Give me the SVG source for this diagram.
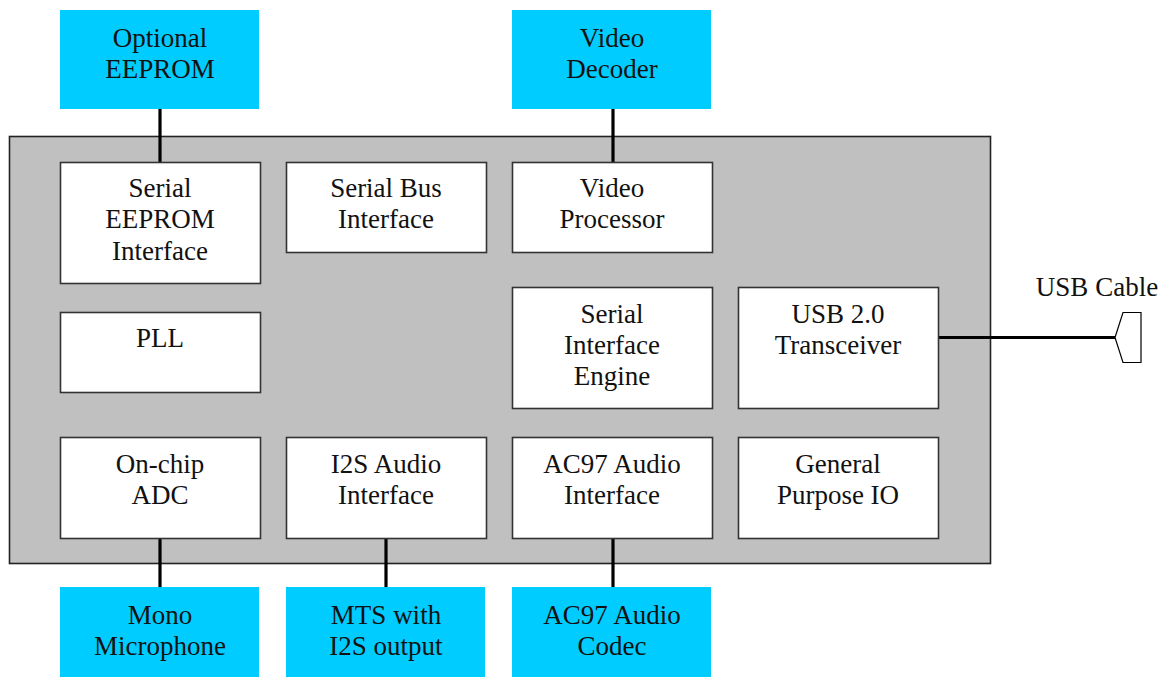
<svg xmlns="http://www.w3.org/2000/svg" width="1167" height="677" viewBox="0 0 1167 677">
  <style>
    .ext { fill: #00ccff; stroke: none; }
    .blk { fill: #ffffff; stroke: #333333; stroke-width: 1.6; }
    .chip { fill: #c0c0c0; stroke: #222222; stroke-width: 1.6; }
    .wire { stroke: #000000; stroke-width: 3.2; fill: none; }
    .plug { stroke: #000000; stroke-width: 1.2; fill: #ffffff; }
    text { font-family: "Liberation Serif", "Times New Roman", serif; font-size: 27px; fill: #111111; text-anchor: middle; }
  </style>

  <!-- device body -->
  <rect id="chip" class="chip" x="9.5" y="136.5" width="981" height="427"/>

  <!-- links between blocks and external parts -->
  <g id="connectors">
    <line class="wire" x1="160" y1="109" x2="160" y2="162"/>
    <line class="wire" x1="613" y1="109" x2="613" y2="162"/>
    <line class="wire" x1="160" y1="538" x2="160" y2="587"/>
    <line class="wire" x1="386" y1="538" x2="386" y2="587"/>
    <line class="wire" x1="613" y1="538" x2="613" y2="587"/>
    <line class="wire" x1="938" y1="337.5" x2="1115" y2="337.5"/>
    <polygon class="plug" points="1115,337.5 1123,312.5 1141,312.5 1141,362.5 1123,362.5"/>
  </g>

  <!-- external parts -->
  <g id="optional-eeprom">
    <rect class="ext" x="60" y="10" width="199" height="99"/>
    <text x="160" y="47">Optional</text>
    <text x="160" y="78">EEPROM</text>
  </g>
  <g id="video-decoder">
    <rect class="ext" x="512" y="10" width="199" height="99"/>
    <text x="612" y="47">Video</text>
    <text x="612" y="78">Decoder</text>
  </g>
  <g id="mono-microphone">
    <rect class="ext" x="60" y="587" width="199" height="90"/>
    <text x="160" y="624">Mono</text>
    <text x="160" y="655">Microphone</text>
  </g>
  <g id="mts-i2s">
    <rect class="ext" x="286" y="587" width="199" height="90"/>
    <text x="386" y="624">MTS with</text>
    <text x="386" y="655">I2S output</text>
  </g>
  <g id="ac97-codec">
    <rect class="ext" x="512" y="587" width="199" height="90"/>
    <text x="612" y="624">AC97 Audio</text>
    <text x="612" y="655">Codec</text>
  </g>

  <!-- internal blocks -->
  <g id="serial-eeprom-interface">
    <rect class="blk" x="60.5" y="162.5" width="200" height="121"/>
    <text x="160" y="197">Serial</text>
    <text x="160" y="228">EEPROM</text>
    <text x="160" y="260">Interface</text>
  </g>
  <g id="serial-bus-interface">
    <rect class="blk" x="286.5" y="162.5" width="200" height="90"/>
    <text x="386" y="197">Serial Bus</text>
    <text x="386" y="228">Interface</text>
  </g>
  <g id="video-processor">
    <rect class="blk" x="512.5" y="162.5" width="200" height="90"/>
    <text x="612" y="197">Video</text>
    <text x="612" y="228">Processor</text>
  </g>
  <g id="pll">
    <rect class="blk" x="60.5" y="312.5" width="200" height="80"/>
    <text x="160" y="347">PLL</text>
  </g>
  <g id="serial-interface-engine">
    <rect class="blk" x="512.5" y="287.5" width="200" height="121"/>
    <text x="612" y="323">Serial</text>
    <text x="612" y="354">Interface</text>
    <text x="612" y="385">Engine</text>
  </g>
  <g id="usb-transceiver">
    <rect class="blk" x="738.5" y="287.5" width="200" height="121"/>
    <text x="838" y="323">USB 2.0</text>
    <text x="838" y="354">Transceiver</text>
  </g>
  <g id="on-chip-adc">
    <rect class="blk" x="60.5" y="437.5" width="200" height="101"/>
    <text x="160" y="473">On-chip</text>
    <text x="160" y="504">ADC</text>
  </g>
  <g id="i2s-audio-interface">
    <rect class="blk" x="286.5" y="437.5" width="200" height="101"/>
    <text x="386" y="473">I2S Audio</text>
    <text x="386" y="504">Interface</text>
  </g>
  <g id="ac97-audio-interface">
    <rect class="blk" x="512.5" y="437.5" width="200" height="101"/>
    <text x="612" y="473">AC97 Audio</text>
    <text x="612" y="504">Interface</text>
  </g>
  <g id="gpio">
    <rect class="blk" x="738.5" y="437.5" width="200" height="101"/>
    <text x="838" y="473">General</text>
    <text x="838" y="504">Purpose IO</text>
  </g>

  <!-- cable label -->
  <g id="usb-cable">
    <text x="1097" y="296">USB Cable</text>
  </g>
</svg>
